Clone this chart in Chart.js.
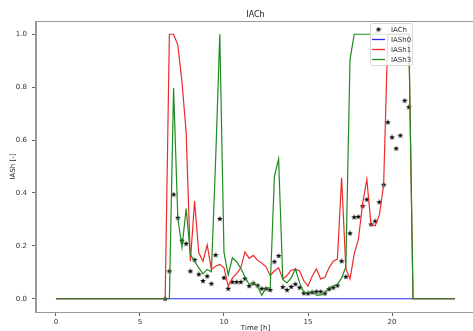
<!DOCTYPE html>
<html>
<head>
<meta charset="utf-8">
<script src="https://cdn.jsdelivr.net/npm/chart.js@4.4.1/dist/chart.umd.min.js"></script>
<style>
  html, body { margin: 0; padding: 0; background: #fff; overflow: hidden; }
  #chart { display: block; }
</style>
</head>
<body>
<canvas id="chart" width="480" height="331"></canvas>
<script>
// time of day, 15 minute steps
const times = [
  0, 0.25, 0.5, 0.75, 1, 1.25, 1.5, 1.75, 2, 2.25, 2.5, 2.75,
  3, 3.25, 3.5, 3.75, 4, 4.25, 4.5, 4.75, 5, 5.25, 5.5, 5.75,
  6, 6.25, 6.5, 6.75, 7, 7.25, 7.5, 7.75, 8, 8.25, 8.5, 8.75,
  9, 9.25, 9.5, 9.75, 10, 10.25, 10.5, 10.75, 11, 11.25, 11.5, 11.75,
  12, 12.25, 12.5, 12.75, 13, 13.25, 13.5, 13.75, 14, 14.25, 14.5, 14.75,
  15, 15.25, 15.5, 15.75, 16, 16.25, 16.5, 16.75, 17, 17.25, 17.5, 17.75,
  18, 18.25, 18.5, 18.75, 19, 19.25, 19.5, 19.75, 20, 20.25, 20.5, 20.75,
  21, 21.25, 21.5, 21.75, 22, 22.25, 22.5, 22.75, 23, 23.25, 23.5, 23.75
];

// IACh is only measured from 6.5 h to 21 h
const iachTimes = times.slice(26, 85);
const iach = [
  0, 0.104,
  0.394, 0.306, 0.22, 0.208,
  0.104, 0.147, 0.092, 0.067,
  0.085, 0.057, 0.165, 0.302,
  0.079, 0.038, 0.063, 0.063,
  0.063, 0.076, 0.048, 0.058,
  0.05, 0.038, 0.038, 0.033,
  0.14, 0.162, 0.044, 0.033,
  0.045, 0.055, 0.042, 0.021,
  0.02, 0.024, 0.027, 0.027,
  0.02, 0.036, 0.042, 0.05,
  0.142, 0.083, 0.247, 0.308,
  0.31, 0.35, 0.375, 0.281,
  0.293, 0.365, 0.431, 0.667,
  0.61, 0.568, 0.617, 0.749,
  0.724
];

const iash0 = [
  0, 0, 0, 0, 0, 0, 0, 0, 0, 0, 0, 0, 0, 0, 0, 0, 0, 0, 0, 0, 0, 0, 0, 0,
  0, 0, 0, 0, 0, 0, 0, 0, 0, 0, 0, 0, 0, 0, 0, 0, 0, 0, 0, 0, 0, 0, 0, 0,
  0, 0, 0, 0, 0, 0, 0, 0, 0, 0, 0, 0, 0, 0, 0, 0, 0, 0, 0, 0, 0, 0, 0, 0,
  0, 0, 0, 0, 0, 0, 0, 0, 0, 0, 0, 0, 0, 0, 0, 0, 0, 0, 0, 0, 0, 0, 0, 0
];

const iash1 = [
  0, 0, 0, 0, 0, 0, 0, 0, 0, 0, 0, 0, 0, 0, 0, 0, 0, 0, 0, 0, 0, 0, 0, 0,
  0, 0, 0, 1.0,
  1.0, 0.96, 0.82, 0.627,
  0.142, 0.369, 0.174, 0.142,
  0.204, 0.111, 0.123, 0.13,
  0.117, 0.048, 0.078, 0.095,
  0.117, 0.177, 0.153, 0.164,
  0.145, 0.135, 0.121, 0.088,
  0.105, 0.117, 0.075, 0.088,
  0.108, 0.112, 0.105, 0.068,
  0.048, 0.085, 0.113, 0.075,
  0.08, 0.117, 0.142, 0.15,
  0.457, 0.115, 0.075, 0.17,
  0.225, 0.36, 0.452, 0.281,
  0.276, 0.318, 0.43, 1.0,
  1.0, 1.0, 1.0, 1.0,
  1.0, 0, 0, 0,
  0, 0, 0, 0, 0, 0, 0, 0
];

const iash3 = [
  0, 0, 0, 0, 0, 0, 0, 0, 0, 0, 0, 0, 0, 0, 0, 0, 0, 0, 0, 0, 0, 0, 0, 0,
  0, 0, 0, 0,
  0.797, 0.306, 0.195, 0.341,
  0.167, 0.142, 0.117, 0.094,
  0.111, 0.102, 0.52, 1.0,
  0.175, 0.09, 0.155, 0.14,
  0.115, 0.082, 0.054, 0.06,
  0.046, 0.013, 0.042, 0.04,
  0.463, 0.529, 0.073, 0.06,
  0.079, 0.113, 0.06, 0.025,
  0.023, 0.029, 0.014, 0.014,
  0.023, 0.042, 0.048, 0.054,
  0.079, 0.12, 0.905, 1.0,
  1.0, 1.0, 1.0, 1.0,
  1.0, 1.0, 1.0, 1.0,
  1.0, 1.0, 1.0, 1.0,
  1.0, 0, 0, 0,
  0, 0, 0, 0, 0, 0, 0, 0
];

const xTicks = [0, 5, 10, 15, 20];
const yTicks = [0, 0.2, 0.4, 0.6, 0.8, 1.0];

const FONT = "'DejaVu Sans', sans-serif";

// filled five-point star, like matplotlib's '*' marker
function makeStar(size, color) {
  const c = document.createElement('canvas');
  c.width = size; c.height = size;
  const g = c.getContext('2d');
  const cx = size / 2, cy = size / 2, ro = size / 2, ri = ro * 0.42;
  g.beginPath();
  for (let i = 0; i < 10; i++) {
    const r = i % 2 === 0 ? ro : ri;
    const a = -Math.PI / 2 + i * Math.PI / 5;
    const px = cx + r * Math.cos(a), py = cy + r * Math.sin(a);
    if (i === 0) g.moveTo(px, py); else g.lineTo(px, py);
  }
  g.closePath();
  g.fillStyle = color;
  g.fill();
  return c;
}
const star = makeStar(6, '#000');

function pairs(xs, ys) {
  return xs.map((x, i) => ({ x: x, y: ys[i] }));
}

// top and right spines, matplotlib draws a full frame
const frame = {
  id: 'frame',
  beforeDatasetsDraw(chart) {
    const a = chart.chartArea, ctx = chart.ctx;
    ctx.save();
    ctx.strokeStyle = '#999';
    ctx.lineWidth = 1;
    ctx.strokeRect(Math.round(a.left) - 0.5, Math.round(a.top) + 0.5,
      a.right - a.left, a.bottom - a.top);
    ctx.restore();
  }
};

// matplotlib-like legend inside the axes
const legendBox = {
  id: 'legendBox',
  afterDraw(chart) {
    const ctx = chart.ctx;
    const x = 370.5, y = 23.5, w = 42, h = 42;
    ctx.save();
    ctx.beginPath();
    ctx.roundRect(x, y, w, h, 2);
    ctx.fillStyle = 'rgba(255,255,255,0.8)';
    ctx.fill();
    ctx.strokeStyle = '#d0d0d0';
    ctx.lineWidth = 0.8;
    ctx.stroke();
    ctx.font = '7px ' + FONT;
    ctx.textBaseline = 'middle';
    chart.data.datasets.forEach((ds, i) => {
      const ey = 29.5 + i * 10;
      if (ds.showLine === false) {
        ctx.drawImage(star, 378.5 - 3, ey - 3);
      } else {
        ctx.beginPath();
        ctx.moveTo(372, ey);
        ctx.lineTo(385, ey);
        ctx.strokeStyle = ds.borderColor;
        ctx.lineWidth = 1.3;
        ctx.stroke();
      }
      ctx.fillStyle = '#333';
      ctx.fillText(ds.label, 391, ey + 0.5);
    });
    ctx.restore();
  }
};

new Chart(document.getElementById('chart'), {
  type: 'line',
  data: {
    datasets: [
      {
        label: 'IACh',
        data: pairs(iachTimes, iach),
        showLine: false,
        pointStyle: star,
        pointRadius: 3,
        order: 4
      },
      {
        label: 'IASh0',
        data: pairs(times, iash0),
        borderColor: '#2a2ae8',
        borderWidth: 1.2,
        pointRadius: 0,
        order: 3
      },
      {
        label: 'IASh1',
        data: pairs(times, iash1),
        borderColor: '#ee2b2b',
        borderWidth: 1.2,
        pointRadius: 0,
        order: 2
      },
      {
        label: 'IASh3',
        data: pairs(times, iash3),
        borderColor: '#1f8a1f',
        borderWidth: 1.2,
        pointRadius: 0,
        order: 1
      }
    ]
  },
  options: {
    responsive: false,
    devicePixelRatio: 1,
    animation: false,
    layout: { padding: { top: 0, right: 5, left: 0, bottom: 0 } },
    plugins: {
      legend: { display: false },
      tooltip: { enabled: false },
      title: {
        display: true,
        text: 'IACh',
        fullSize: false,
        color: '#222',
        font: { family: FONT, size: 8, weight: 'normal' },
        padding: { top: 10, bottom: 1.4 }
      }
    },
    scales: {
      x: {
        type: 'linear',
        min: -1.1875,
        max: 24.9375,
        afterBuildTicks: s => { s.ticks = xTicks.map(v => ({ value: v })); },
        afterFit: s => { s.height = 19; },
        grid: { drawOnChartArea: false, tickLength: 4, color: '#666' },
        border: { color: '#999', width: 1 },
        ticks: {
          color: '#333',
          padding: 2,
          maxRotation: 0,
          font: { family: FONT, size: 7 },
          callback: v => String(v)
        },
        title: {
          display: true,
          text: 'Time [h]',
          color: '#222',
          font: { family: FONT, size: 7 },
          padding: { top: 0, bottom: -1 }
        }
      },
      y: {
        min: -0.05,
        max: 1.05,
        afterBuildTicks: s => { s.ticks = yTicks.map(v => ({ value: v })); },
        afterFit: s => { s.width = 36; },
        grid: { drawOnChartArea: false, tickLength: 4, color: '#666' },
        border: { color: '#999', width: 1 },
        ticks: {
          color: '#333',
          padding: 5,
          font: { family: FONT, size: 7 },
          callback: v => v.toFixed(1)
        },
        title: {
          display: true,
          text: 'IASh [-]',
          color: '#222',
          font: { family: FONT, size: 7 },
          padding: { top: 9, bottom: 0 }
        }
      }
    }
  },
  plugins: [frame, legendBox]
});
</script>
</body>
</html>
